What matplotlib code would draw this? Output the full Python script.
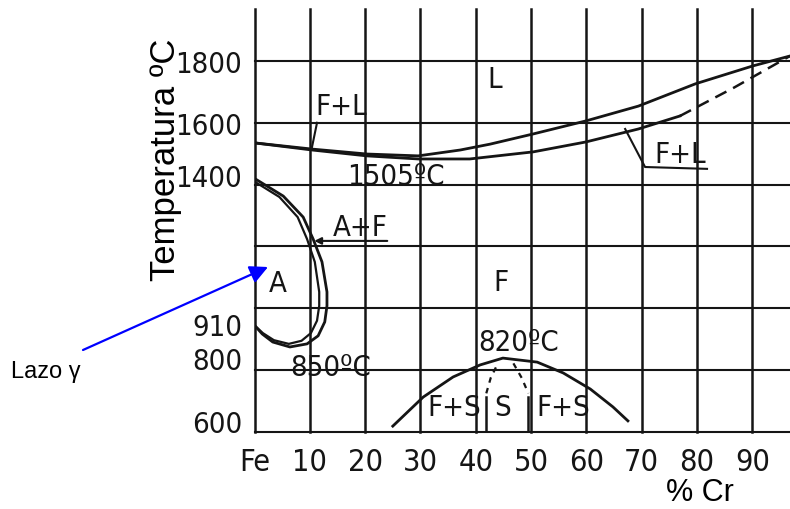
import matplotlib
matplotlib.use("Agg")
import matplotlib.pyplot as plt
from matplotlib import font_manager
from matplotlib.font_manager import FontProperties
from matplotlib.transforms import ScaledTranslation

# Fe-Cr diagram, values (% Cr, temperature in C)
x_ticks = [0, 10, 20, 30, 40, 50, 60, 70, 80, 90]
x_tick_labels = ["Fe", "10", "20", "30", "40", "50", "60", "70", "80", "90"]
t_grid = [600, 800, 1000, 1200, 1400, 1600, 1800]
t_ticks = [600, 800, 910, 1400, 1600, 1800]
t_tick_labels = ["600", "800", "910", "1400", "1600", "1800"]

# liquidus (upper line)
liq_cr = [0, 10.4, 20.3, 29.6, 37.2, 42.6, 50.4, 59.9, 69.4, 79.7, 90.1, 96.8]
liq_t = [1535, 1515, 1499, 1493, 1512, 1531, 1564, 1606, 1654, 1726, 1784, 1816]

# solidus (lower line), solid then dashed part
sol_cr = [0, 10.4, 20.3, 29.6, 38.9, 50.4, 59.9, 69.4, 76.9]
sol_t = [1535, 1512, 1493, 1483, 1483, 1506, 1538, 1580, 1622]
sol_dash_cr = [76.9, 86.7, 96.8]
sol_dash_t = [1622, 1714, 1816]

# gamma loop, outer and inner boundary
loop_out_cr = [0, 5.2, 8.8, 10.6, 12.2, 13.1, 13.1, 12.7, 11.5, 9.5, 6.4, 3.3, 1.4, 0]
loop_out_t = [1420, 1363, 1295, 1224, 1150, 1053, 1008, 956, 911, 885, 875, 891, 917, 945]
loop_in_cr = [0, 4.5, 7.8, 9.5, 10.9, 11.7, 11.7, 11.3, 10.2, 8.5, 6.2, 3.5, 1.5, 0]
loop_in_t = [1410, 1360, 1295, 1224, 1150, 1053, 1008, 960, 920, 895, 885, 897, 920, 945]

# sigma dome
sig_cr = [25.0, 30.5, 35.9, 40.8, 44.9, 51.1, 55.8, 60.7, 64.8, 67.5]
sig_t = [619, 713, 778, 817, 839, 826, 791, 739, 681, 636]
sig_left_cr = [41.9, 42.7, 44.0]
sig_left_t = [725, 775, 822]
sig_right_cr = [46.8, 48.3, 49.5]
sig_right_t = [822, 775, 725]
sig_walls_cr = [41.9, 49.5]
sig_walls_top = 712

phase_labels = [
    ("L", 43.5, 1742),
    ("F+L", 15.7, 1655),
    ("F+L", 76.9, 1499),
    ("1505ºC", 25.6, 1428),
    ("A+F", 19.1, 1262),
    ("A", 4.2, 1082),
    ("F", 44.6, 1085),
    ("820ºC", 47.7, 891),
    ("850ºC", 13.7, 810),
    ("F+S", 36.1, 681),
    ("S", 44.8, 681),
    ("F+S", 55.8, 681),
]


def narrow_font(size):
    # the scan uses a condensed face; take one if the system has it
    narrow = [f for f in font_manager.fontManager.ttflist
              if f.stretch in ("condensed", "semi-condensed", "extra-condensed")
              or "Narrow" in f.name or "Condensed" in f.name]
    narrow = [f for f in narrow if f.weight in (400, "normal", "regular", "book")
              and f.style == "normal"] or narrow
    if narrow:
        return FontProperties(fname=narrow[0].fname, size=size)
    return FontProperties(family="DejaVu Sans", size=size * 0.88)


ink = "#151515"

fig = plt.figure(figsize=(7.9, 5.1), dpi=100)
ax = fig.add_axes([254.5 / 790, 77 / 510, 535.5 / 790, 423 / 510])
ax.set_xlim(0, 96.8)
ax.set_ylim(600, 1968)
for s in ax.spines.values():
    s.set_visible(False)

for x in x_ticks:
    ax.axvline(x, color=ink, lw=1.8, clip_on=False, zorder=1)
for t in t_grid:
    ax.axhline(t, color=ink, lw=1.5, clip_on=False, zorder=1)

lw = 2.0
ax.plot(liq_cr, liq_t, color=ink, lw=lw)
ax.plot(sol_cr, sol_t, color=ink, lw=lw)
ax.plot(sol_dash_cr, sol_dash_t, color=ink, lw=1.8, linestyle=(0, (5, 3)))
ax.plot(loop_out_cr, loop_out_t, color=ink, lw=lw)
ax.plot(loop_in_cr, loop_in_t, color=ink, lw=1.6)
ax.plot(sig_cr, sig_t, color=ink, lw=lw)
ax.plot(sig_left_cr, sig_left_t, color=ink, lw=1.6, linestyle=(0, (2.5, 2.5)))
ax.plot(sig_right_cr, sig_right_t, color=ink, lw=1.6, linestyle=(0, (2.5, 2.5)))
for x in sig_walls_cr:
    ax.plot([x, x], [600, sig_walls_top], color=ink, lw=1.8)

# leader lines for the F+L and A+F labels
ax.plot([10.4, 11.3], [1522, 1600], color=ink, lw=1.5)
ax.plot([67.0, 70.6, 81.8], [1580, 1457, 1451], color=ink, lw=1.5)
ax.annotate("", xy=(10.8, 1218), xytext=(24.0, 1218),
            arrowprops=dict(arrowstyle="-|>", color=ink, lw=1.5,
                            mutation_scale=10, shrinkA=0, shrinkB=0))

for txt, x, t in phase_labels:
    ax.text(x, t, txt, fontproperties=narrow_font(21), color=ink,
            ha="center", va="center", zorder=5)

ax.set_xticks(x_ticks)
ax.set_xticklabels(x_tick_labels, fontproperties=narrow_font(22), color=ink)
ax.set_yticks(t_ticks)
ax.set_yticklabels(t_tick_labels, fontproperties=narrow_font(21), color=ink)
ax.tick_params(length=0)
ax.tick_params(axis="x", pad=11)
ax.tick_params(axis="y", pad=9)

# labels in the scan sit a little above their lines
y_offsets = [11, 12, 12, 10, 0, 0]
for lab, off in zip(ax.get_yticklabels(), y_offsets):
    lab.set_transform(lab.get_transform() + ScaledTranslation(0, off / 100, fig.dpi_scale_trans))

fig.text(165 / 790, 1 - 160 / 510, "Temperatura ºC", rotation=90, fontsize=25,
         family="Liberation Sans", ha="center", va="center")
fig.text(700 / 790, 1 - 493 / 510, "% Cr", fontsize=22,
         family="Liberation Sans", ha="center", va="center")
fig.text(46 / 790, 1 - 372 / 510, "Lazo γ", fontsize=17,
         family="Liberation Sans", ha="center", va="center")

ax.annotate("", xy=(268 / 790, 1 - 268 / 510), xycoords="figure fraction",
            xytext=(83 / 790, 1 - 351 / 510), textcoords="figure fraction",
            arrowprops=dict(arrowstyle="-|>,head_length=0.6,head_width=0.3",
                            color="#0000ff", lw=1.6, mutation_scale=18,
                            shrinkA=0, shrinkB=0))

fig.savefig("out.png", dpi=100)
